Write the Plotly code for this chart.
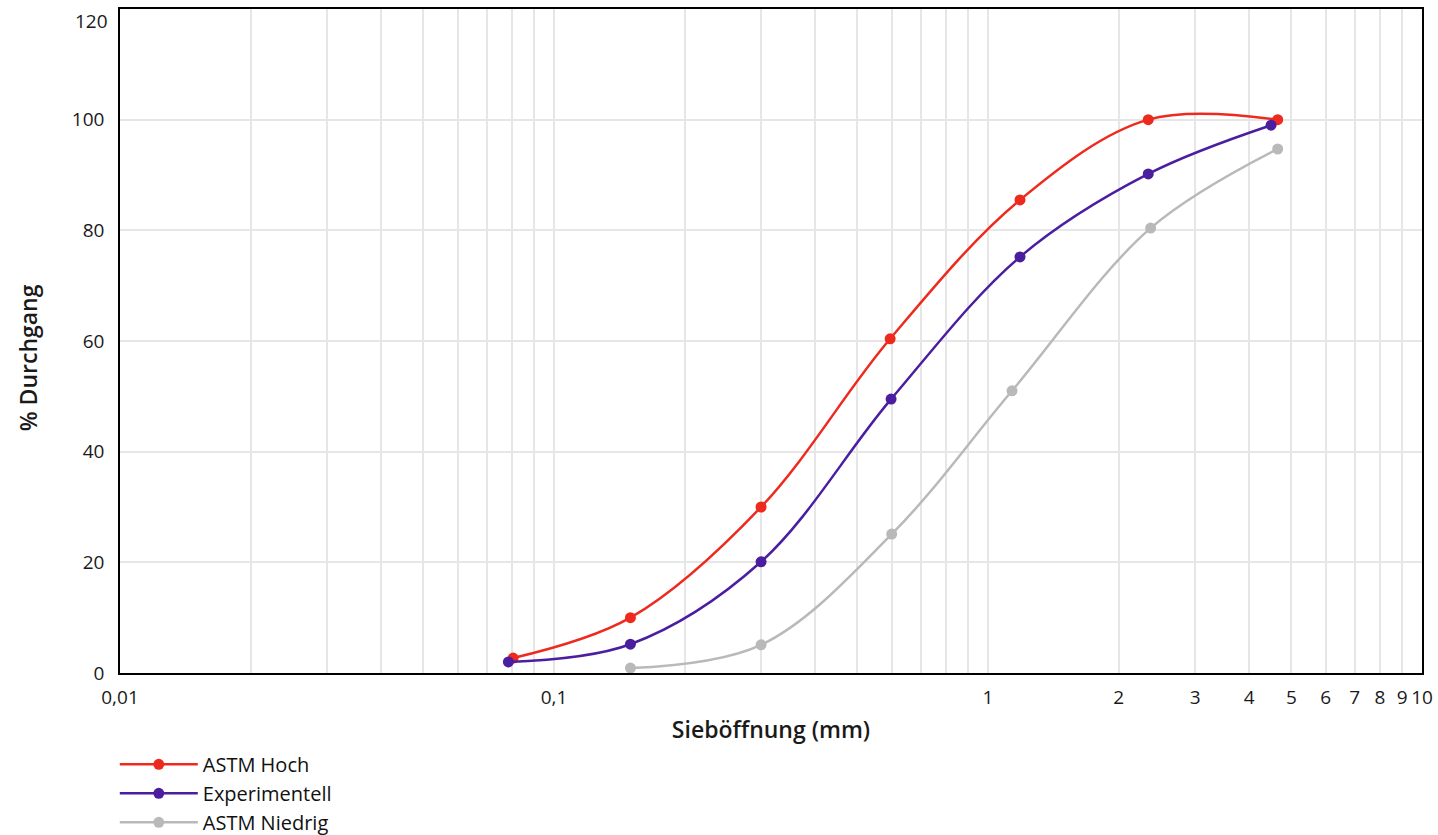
import plotly.graph_objects as go

# Data
hoch_x = [0.0805, 0.150, 0.300, 0.595, 1.185, 2.34, 4.65]
hoch_y = [2.7, 10.0, 30.0, 60.4, 85.5, 100.0, 100.0]

exp_x = [0.0785, 0.150, 0.300, 0.598, 1.185, 2.34, 4.49]
exp_y = [2.0, 5.2, 20.1, 49.5, 75.2, 90.2, 99.0]

nied_x = [0.150, 0.300, 0.600, 1.136, 2.37, 4.65]
nied_y = [0.9, 5.1, 25.1, 51.0, 80.4, 94.7]

series_names = ["ASTM Hoch", "Experimentell", "ASTM Niedrig"]
series_colors = ["#EE2A1E", "#4B1EA0", "#B9B9B9"]

x_tickvals = [m * 10 ** e for e in (-2, -1, 0) for m in range(1, 10)] + [10]
x_ticktext = ["0,01"] + [""] * 8 + ["0,1"] + [""] * 8 + ["1", "2", "3", "4", "5", "6", "7", "8", "9"] + ["10"]
y_tickvals = [0, 20, 40, 60, 80, 100]
y_top = 120

x_title = "Sieböffnung (mm)"
y_title = "% Durchgang"

FONT = "'Open Sans', 'Noto Sans', sans-serif"

fig = go.Figure()
for name, xs, ys, col in zip(series_names, [hoch_x, exp_x, nied_x], [hoch_y, exp_y, nied_y], series_colors):
    fig.add_trace(go.Scatter(
        x=xs, y=ys, name=name, mode="lines+markers",
        line=dict(color=col, width=2.5, shape="spline", smoothing=1.0),
        marker=dict(color=col, size=11),
    ))

# top tick label (kept inside the frame like the reference)
fig.add_annotation(
    x=0, xref="paper", y=y_top, yref="y", text=str(y_top), showarrow=False,
    xanchor="right", yanchor="middle", xshift=-10, yshift=-12,
    font=dict(family=FONT, size=19, color="#1a1a1a"),
)
# y-axis title, placed slightly below the plot's vertical centre as in the reference
fig.add_annotation(
    x=0, xref="paper", y=0.474, yref="paper", text=y_title, showarrow=False,
    textangle=-90, xanchor="center", yanchor="middle", xshift=-92,
    font=dict(family=FONT, size=23, weight=600, color="#1a1a1a"),
)

fig.update_layout(
    width=1438, height=835,
    margin=dict(l=120, r=16, t=9, b=162, autoexpand=False),
    plot_bgcolor="white", paper_bgcolor="white",
    font=dict(family=FONT, size=19, color="#1a1a1a"),
    showlegend=True,
    legend=dict(
        orientation="v", x=-0.004, xanchor="left", xref="paper",
        y=0.108, yanchor="top", yref="container",
        font=dict(size=20, color="#111111"), tracegroupgap=0, itemwidth=78,
        bgcolor="rgba(0,0,0,0)",
    ),
    xaxis=dict(
        type="log", range=[-2, 1], automargin=False,
        tickvals=x_tickvals, ticktext=x_ticktext, tickangle=0,
        showgrid=True, gridcolor="#E6E6E6", gridwidth=1.5,
        showline=True, linecolor="black", linewidth=1.5, mirror=True,
        ticks="", zeroline=False, ticklabelstandoff=6,
        title=dict(text=x_title, font=dict(size=23, weight=600), standoff=14),
    ),
    yaxis=dict(
        range=[0, y_top], tickvals=y_tickvals, automargin=False,
        showgrid=True, gridcolor="#E6E6E6", gridwidth=1.5,
        showline=True, linecolor="black", linewidth=1.5, mirror=True,
        ticks="", zeroline=False, ticklabelstandoff=10,
    ),
)

fig.write_html(
    "out.html",
    config={"displayModeBar": False},
    post_script="document.body.style.margin='0';",
)
